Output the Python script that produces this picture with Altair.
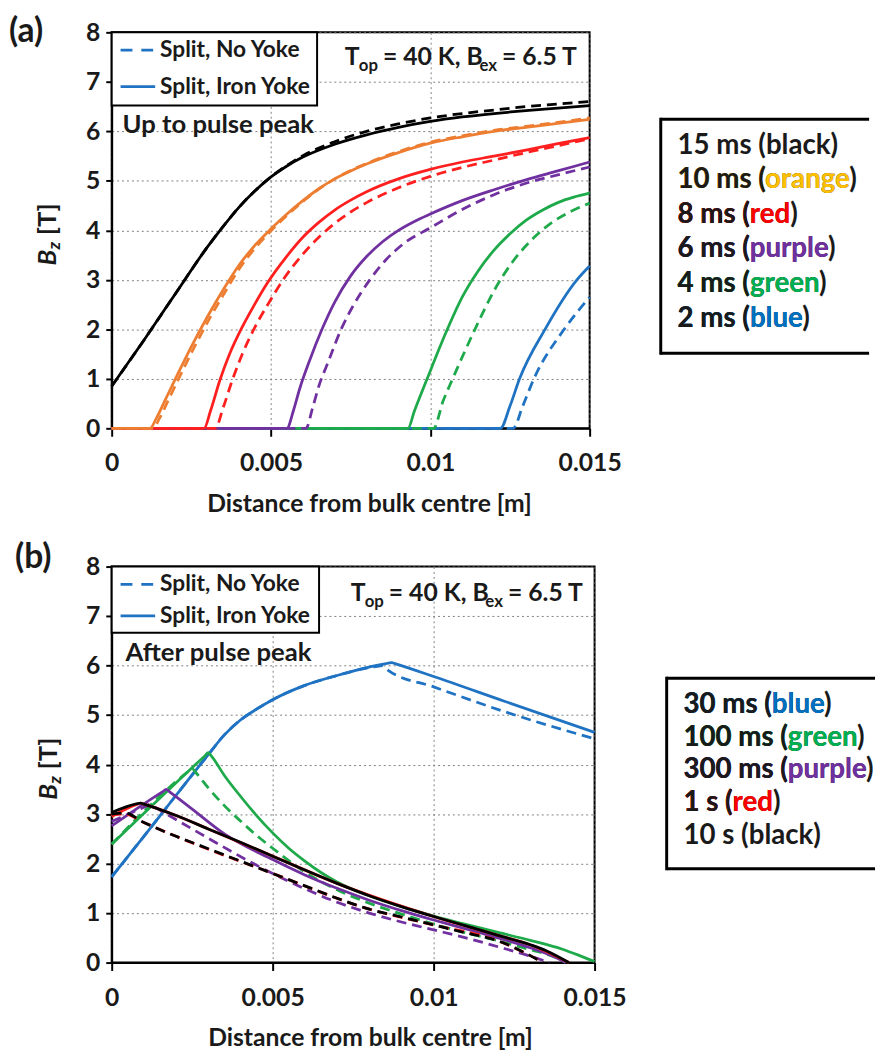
import altair as alt
import pandas as pd

FONT = "Lato"
INK = "#1a1a1a"

C_BLACK = "#000000"
C_ORANGE = "#ED7D31"
C_RED = "#FF1F1F"
C_PURPLE = "#7030A0"
C_GREEN = "#1EAA4A"
C_BLUE = "#1F73C2"

X_TICKS = [0, 0.005, 0.01, 0.015]
Y_TICKS = [0, 1, 2, 3, 4, 5, 6, 7, 8]

# ---------------- panel (a): up to pulse peak ----------------
A_BLACK_SOLID_X = [0, 0.001, 0.002, 0.003, 0.0035, 0.004, 0.0045, 0.005, 0.0055, 0.006, 0.007, 0.008, 0.009, 0.010, 0.011, 0.012, 0.013, 0.014, 0.015]
A_BLACK_SOLID_Y = [0.85, 1.77, 2.72, 3.66, 4.08, 4.47, 4.8, 5.08, 5.3, 5.48, 5.74, 5.93, 6.08, 6.2, 6.29, 6.36, 6.42, 6.47, 6.52]
A_BLACK_DASH_X = [0, 0.001, 0.002, 0.003, 0.0035, 0.004, 0.0045, 0.005, 0.0055, 0.006, 0.007, 0.008, 0.009, 0.010, 0.011, 0.012, 0.013, 0.014, 0.015]
A_BLACK_DASH_Y = [0.85, 1.77, 2.72, 3.66, 4.08, 4.47, 4.8, 5.08, 5.31, 5.51, 5.79, 6.0, 6.15, 6.27, 6.36, 6.43, 6.5, 6.55, 6.6]

A_ORANGE_SOLID_X = [0, 0.0012, 0.0014, 0.0017, 0.002, 0.0025, 0.003, 0.0035, 0.004, 0.0045, 0.005, 0.0055, 0.006, 0.0065, 0.007, 0.0075, 0.008, 0.009, 0.010, 0.011, 0.012, 0.013, 0.014, 0.015]
A_ORANGE_SOLID_Y = [0, 0, 0.2, 0.6, 1.0, 1.65, 2.25, 2.8, 3.3, 3.7, 4.03, 4.33, 4.6, 4.84, 5.04, 5.2, 5.34, 5.57, 5.76, 5.89, 6.0, 6.08, 6.16, 6.24]
A_ORANGE_DASH_X = [0, 0.0013, 0.0015, 0.0018, 0.0021, 0.0026, 0.0031, 0.0036, 0.004, 0.0045, 0.005, 0.0055, 0.006, 0.0065, 0.007, 0.0075, 0.008, 0.009, 0.010, 0.011, 0.012, 0.013, 0.014, 0.015]
A_ORANGE_DASH_Y = [0, 0, 0.2, 0.6, 1.0, 1.65, 2.25, 2.8, 3.22, 3.64, 3.99, 4.3, 4.58, 4.83, 5.04, 5.21, 5.35, 5.59, 5.78, 5.91, 6.02, 6.1, 6.18, 6.27]

A_RED_SOLID_X = [0, 0.0029, 0.0031, 0.0034, 0.0037, 0.0041, 0.0045, 0.0049, 0.0055, 0.006, 0.0065, 0.007, 0.0075, 0.008, 0.009, 0.010, 0.011, 0.012, 0.013, 0.014, 0.015]
A_RED_SOLID_Y = [0, 0, 0.35, 0.98, 1.5, 2.05, 2.52, 2.95, 3.48, 3.86, 4.16, 4.41, 4.61, 4.78, 5.04, 5.23, 5.38, 5.5, 5.62, 5.75, 5.87]
A_RED_DASH_X = [0, 0.00325, 0.0035, 0.0038, 0.0041, 0.0045, 0.0049, 0.0054, 0.006, 0.0065, 0.007, 0.0075, 0.008, 0.009, 0.010, 0.011, 0.012, 0.013, 0.014, 0.015]
A_RED_DASH_Y = [0, 0, 0.42, 1.0, 1.5, 2.05, 2.5, 3.02, 3.52, 3.86, 4.14, 4.37, 4.56, 4.86, 5.09, 5.27, 5.42, 5.57, 5.71, 5.85]

A_PURPLE_SOLID_X = [0, 0.0055, 0.0057, 0.0059, 0.0062, 0.0066, 0.007, 0.0075, 0.008, 0.0085, 0.009, 0.0095, 0.010, 0.011, 0.012, 0.013, 0.014, 0.015]
A_PURPLE_SOLID_Y = [0, 0, 0.35, 0.8, 1.35, 2.0, 2.55, 3.08, 3.47, 3.77, 4.0, 4.18, 4.33, 4.6, 4.82, 5.02, 5.2, 5.38]
A_PURPLE_DASH_X = [0, 0.0061, 0.0063, 0.0065, 0.0068, 0.0072, 0.0076, 0.0081, 0.0086, 0.0092, 0.010, 0.011, 0.012, 0.013, 0.014, 0.015]
A_PURPLE_DASH_Y = [0, 0, 0.4, 0.85, 1.35, 2.0, 2.5, 3.0, 3.4, 3.75, 4.05, 4.42, 4.72, 4.95, 5.12, 5.28]

A_GREEN_SOLID_X = [0, 0.0093, 0.0095, 0.0099, 0.0105, 0.011, 0.0115, 0.012, 0.0125, 0.013, 0.0135, 0.014, 0.0145, 0.015]
A_GREEN_SOLID_Y = [0, 0, 0.35, 1.0, 1.95, 2.65, 3.18, 3.6, 3.93, 4.2, 4.4, 4.56, 4.67, 4.75]
A_GREEN_DASH_X = [0, 0.0101, 0.0104, 0.0107, 0.0114, 0.012, 0.0126, 0.0132, 0.0138, 0.0144, 0.015]
A_GREEN_DASH_Y = [0, 0, 0.55, 1.0, 2.0, 2.78, 3.38, 3.82, 4.15, 4.38, 4.55]

A_BLUE_SOLID_X = [0, 0.0122, 0.0125, 0.0128, 0.0136, 0.0146, 0.015]
A_BLUE_SOLID_Y = [0, 0, 0.45, 1.0, 2.0, 3.0, 3.28]
A_BLUE_DASH_X = [0, 0.0126, 0.0129, 0.01325, 0.0142, 0.015]
A_BLUE_DASH_Y = [0, 0, 0.45, 1.0, 2.0, 2.65]

# ---------------- panel (b): after pulse peak ----------------
B_BLUE_SOLID_X = [0, 0.001, 0.002, 0.003, 0.0035, 0.004, 0.0045, 0.005, 0.006, 0.007, 0.008, 0.0086, 0.0087, 0.0088, 0.010, 0.0122, 0.015]
B_BLUE_SOLID_Y = [1.73, 2.55, 3.38, 4.2, 4.6, 4.9, 5.12, 5.31, 5.6, 5.8, 5.97, 6.05, 6.06, 6.04, 5.78, 5.28, 4.65]
B_BLUE_DASH_X = [0, 0.001, 0.002, 0.003, 0.0035, 0.004, 0.0045, 0.005, 0.006, 0.007, 0.008, 0.0083, 0.0084, 0.0086, 0.010, 0.0122, 0.015]
B_BLUE_DASH_Y = [1.73, 2.55, 3.38, 4.2, 4.6, 4.9, 5.12, 5.31, 5.6, 5.8, 5.96, 5.99, 6.0, 5.9, 5.57, 5.07, 4.52]

B_GREEN_SOLID_X = [0, 0.0029, 0.003, 0.0031, 0.0035, 0.004, 0.0045, 0.005, 0.0055, 0.006, 0.0065, 0.007, 0.008, 0.009, 0.010, 0.011, 0.012, 0.013, 0.014, 0.0145, 0.015]
B_GREEN_SOLID_Y = [2.39, 4.18, 4.24, 4.17, 3.78, 3.36, 2.97, 2.62, 2.31, 2.05, 1.82, 1.63, 1.35, 1.13, 0.94, 0.77, 0.61, 0.45, 0.27, 0.15, 0.02]
B_GREEN_DASH_X = [0, 0.0024, 0.0025, 0.0026, 0.003, 0.0035, 0.004, 0.0045, 0.005, 0.0055, 0.006, 0.007, 0.008, 0.009, 0.010, 0.011, 0.012, 0.013, 0.0138, 0.0141]
B_GREEN_DASH_Y = [2.39, 3.87, 3.92, 3.85, 3.53, 3.17, 2.86, 2.57, 2.31, 2.06, 1.83, 1.47, 1.2, 0.98, 0.78, 0.6, 0.44, 0.26, 0.1, 0.0]

B_PURPLE_SOLID_X = [0, 0.0016, 0.0017, 0.0018, 0.0025, 0.0035, 0.005, 0.006, 0.007, 0.008, 0.009, 0.010, 0.011, 0.012, 0.013, 0.0138, 0.0141]
B_PURPLE_SOLID_Y = [2.76, 3.46, 3.5, 3.45, 3.1, 2.6, 2.08, 1.77, 1.5, 1.26, 1.05, 0.86, 0.68, 0.5, 0.3, 0.1, 0.0]
B_PURPLE_DASH_X = [0, 0.0011, 0.0012, 0.0013, 0.0025, 0.005, 0.007, 0.008, 0.009, 0.010, 0.011, 0.012, 0.013, 0.0136]
B_PURPLE_DASH_Y = [2.85, 3.17, 3.2, 3.16, 2.7, 1.8, 1.22, 1.0, 0.82, 0.66, 0.5, 0.32, 0.13, 0.0]

B_RED_SOLID_X = [0, 0.0008, 0.0009, 0.001, 0.002, 0.003, 0.005, 0.007, 0.010, 0.012, 0.013, 0.0142]
B_RED_SOLID_Y = [2.95, 3.2, 3.22, 3.2, 2.97, 2.7, 2.15, 1.6, 0.93, 0.55, 0.36, 0.0]
B_RED_DASH_X = [0, 0.0004, 0.001, 0.002, 0.005, 0.008, 0.010, 0.012, 0.013, 0.0134]
B_RED_DASH_Y = [2.98, 3.0, 2.83, 2.55, 1.8, 1.08, 0.76, 0.44, 0.14, 0.0]

B_BLACK_SOLID_X = [0, 0.0008, 0.0009, 0.001, 0.002, 0.003, 0.004, 0.005, 0.006, 0.007, 0.008, 0.009, 0.010, 0.011, 0.012, 0.013, 0.0135, 0.0142]
B_BLACK_SOLID_Y = [3.03, 3.21, 3.22, 3.2, 2.97, 2.7, 2.43, 2.15, 1.87, 1.6, 1.35, 1.13, 0.93, 0.74, 0.55, 0.36, 0.24, 0.0]
B_BLACK_DASH_X = [0, 0.0004, 0.001, 0.002, 0.003, 0.004, 0.005, 0.006, 0.007, 0.008, 0.009, 0.010, 0.011, 0.012, 0.013, 0.0134]
B_BLACK_DASH_Y = [3.0, 3.02, 2.83, 2.55, 2.3, 2.05, 1.8, 1.55, 1.3, 1.08, 0.92, 0.76, 0.6, 0.44, 0.14, 0.0]

# ---------------- texts ----------------
STYLE_LABELS = ["Split, No Yoke", "Split, Iron Yoke"]
A_NOTE = "Up to pulse peak"
B_NOTE = "After pulse peak"
A_LEG_PREFIX = ["15 ms (", "10 ms (", "8 ms (", "6 ms (", "4 ms (", "2 ms ("]
A_LEG_WORD = ["black", "orange", "red", "purple", "green", "blue"]
A_LEG_COLOR = [INK, "#FFC000", "#FF0000", "#7030A0", "#00B050", "#0070C0"]
B_LEG_PREFIX = ["30 ms (", "100 ms (", "300 ms (", "1 s (", "10 s ("]
B_LEG_WORD = ["blue", "green", "purple", "red", "black"]
B_LEG_COLOR = ["#0070C0", "#00B050", "#7030A0", "#FF0000", INK]
X_TITLE = "Distance from bulk centre [m]"

DUMMY = pd.DataFrame({"d": [0]})

LATO_W = {" ": 0.2, "=": 0.58, ",": 0.24, ".": 0.24, "T": 0.57, "K": 0.67, "B": 0.66,
          "o": 0.57, "p": 0.57, "e": 0.53, "x": 0.52, "z": 0.47, "[": 0.32, "]": 0.32}


def tw(s, size):
    return sum(LATO_W.get(c, 0.58) for c in s) * size


def T(s, x, y, size, color=INK, align="left", baseline="middle", angle=None, style="normal"):
    kw = dict(text=s, align=align, baseline=baseline, font=FONT, fontSize=size,
              fontWeight="bold", color=color, fontStyle=style)
    if angle is not None:
        kw["angle"] = angle
    return alt.Chart(DUMMY).mark_text(**kw).encode(x=alt.value(x), y=alt.value(y))


def R(x1, y1, x2, y2, color="black", w=2.0, dash=None):
    kw = dict(color=color, strokeWidth=w)
    if dash:
        kw["strokeDash"] = dash
    return alt.Chart(DUMMY).mark_rule(**kw).encode(
        x=alt.value(x1), y=alt.value(y1), x2=alt.value(x2), y2=alt.value(y2))


def box(x1, y1, x2, y2, stroke=True):
    kw = dict(fill="white")
    if stroke:
        kw.update(stroke="black", strokeWidth=2)
    return alt.Chart(DUMMY).mark_rect(**kw).encode(
        x=alt.value(x1), y=alt.value(y1), x2=alt.value(x2), y2=alt.value(y2))


XS = alt.Scale(domain=[0, 0.015], nice=False, zero=False)
YS = alt.Scale(domain=[0, 8], nice=False)
XA = alt.Axis(values=X_TICKS, format=".3~f", title=None, grid=True, labelFlush=False,
              gridDash=[2, 3], gridColor="#808080", gridWidth=1,
              domainColor="black", domainWidth=2, tickColor="black", tickWidth=2, tickSize=8,
              labelFont=FONT, labelFontSize=25, labelFontWeight="bold", labelColor=INK, labelPadding=15)
YA = alt.Axis(values=Y_TICKS, format="d", title=None, grid=True,
              gridDash=[2, 3], gridColor="#808080", gridWidth=1,
              domainColor="black", domainWidth=2, tickColor="black", tickWidth=2, tickSize=6,
              labelFont=FONT, labelFontSize=25, labelFontWeight="bold", labelColor=INK, labelPadding=6)


def curve(xs, ys, color, dashed, interp="monotone"):
    df = pd.DataFrame({"x": xs, "B": ys})
    kw = dict(color=color, strokeWidth=2.8, interpolate=interp)
    if dashed:
        kw["strokeDash"] = [10, 6]
    return alt.Chart(df).mark_line(**kw).encode(
        x=alt.X("x:Q", scale=XS, axis=XA), y=alt.Y("B:Q", scale=YS, axis=YA))


def top_label(x0, yb):
    parts = [("T", 25, 0), ("op", 17, 6), ("= 40 K, B", 25, 0), ("ex", 17, 6), ("= 6.5 T", 25, 0)]
    out = []
    x = x0
    for i, (s, size, dy) in enumerate(parts):
        if i in (2, 4):
            x += tw(" ", 25)
        out.append(T(s, x, yb + dy, size, baseline="alphabetic"))
        x += tw(s, size)
    return out


def y_title(x, ybot):
    wB = tw("B", 26)
    wz = tw("z", 18)
    return [
        T("B", x, ybot, 26, angle=270, style="italic"),
        T("z", x + 7, ybot - wB + 1, 18, angle=270, style="italic"),
        T("[T]", x, ybot - wB - wz - tw(" ", 26), 26, angle=270),
    ]


def colored_rows(prefixes, words, colors, x, y0, dy, size):
    out = []
    for i, (p, w, c) in enumerate(zip(prefixes, words, colors)):
        y = y0 + dy * i
        out.append(T(p + w + ")", x, y, size, INK))
        if c != INK:
            out.append(T(p + w, x, y, size, c))
            out.append(T(p, x, y, size, INK))
    return out


def side_box(x1, y1, x2, y2):
    return [box(x1, y1, x2, y2, stroke=False),
            R(x1, y1, x2, y1, w=3), R(x1, y2, x2, y2, w=3), R(x1, y1 - 1.5, x1, y2 + 1.5, w=3)]


def style_legend(w, h, y1, y2):
    return [box(0, 0, w, h),
            R(9, y1, 44, y1, C_BLUE, 2.8, [12, 9]), T(STYLE_LABELS[0], 49, y1, 23),
            R(9, y2, 44, y2, C_BLUE, 2.8), T(STYLE_LABELS[1], 49, y2, 23)]


# ---------- panel (a) ----------
WA, HA = 484, 401
a_lines = [
    curve(A_BLUE_DASH_X, A_BLUE_DASH_Y, C_BLUE, True),
    curve(A_BLUE_SOLID_X, A_BLUE_SOLID_Y, C_BLUE, False),
    curve(A_GREEN_DASH_X, A_GREEN_DASH_Y, C_GREEN, True),
    curve(A_GREEN_SOLID_X, A_GREEN_SOLID_Y, C_GREEN, False),
    curve(A_PURPLE_DASH_X, A_PURPLE_DASH_Y, C_PURPLE, True),
    curve(A_PURPLE_SOLID_X, A_PURPLE_SOLID_Y, C_PURPLE, False),
    curve(A_RED_DASH_X, A_RED_DASH_Y, C_RED, True),
    curve(A_RED_SOLID_X, A_RED_SOLID_Y, C_RED, False),
    curve(A_ORANGE_DASH_X, A_ORANGE_DASH_Y, C_ORANGE, True),
    curve(A_ORANGE_SOLID_X, A_ORANGE_SOLID_Y, C_ORANGE, False),
    curve(A_BLACK_DASH_X, A_BLACK_DASH_Y, C_BLACK, True),
    curve(A_BLACK_SOLID_X, A_BLACK_SOLID_Y, C_BLACK, False),
]
a_deco = (style_legend(208, 74, 18, 55)
          + [T(A_NOTE, 11, 94, 26)]
          + top_label(236, 33)
          + side_box(556, 88, 767, 325)
          + colored_rows(A_LEG_PREFIX, A_LEG_WORD, A_LEG_COLOR, 573, 115, 35, 28)
          + [T("(a)", -104, 0, 34)]
          + y_title(-64, 236)
          + [T(X_TITLE, 261, 478, 25, align="center")])
panel_a = alt.layer(*(a_lines + a_deco)).properties(width=WA, height=HA)

# ---------- panel (b) ----------
WB, HB = 489, 401
b_lines = [
    curve(B_BLUE_DASH_X, B_BLUE_DASH_Y, C_BLUE, True),
    curve(B_BLUE_SOLID_X, B_BLUE_SOLID_Y, C_BLUE, False),
    curve(B_GREEN_DASH_X, B_GREEN_DASH_Y, C_GREEN, True),
    curve(B_GREEN_SOLID_X, B_GREEN_SOLID_Y, C_GREEN, False),
    curve(B_PURPLE_DASH_X, B_PURPLE_DASH_Y, C_PURPLE, True),
    curve(B_PURPLE_SOLID_X, B_PURPLE_SOLID_Y, C_PURPLE, False),
    curve(B_RED_DASH_X, B_RED_DASH_Y, C_RED, True),
    curve(B_RED_SOLID_X, B_RED_SOLID_Y, C_RED, False),
    curve(B_BLACK_DASH_X, B_BLACK_DASH_Y, C_BLACK, True),
    curve(B_BLACK_SOLID_X, B_BLACK_SOLID_Y, C_BLACK, False),
]
b_deco = (style_legend(210, 67, 18, 50)
          + [T(B_NOTE, 14, 88, 26)]
          + top_label(242, 35)
          + side_box(562, 113, 773, 306)
          + colored_rows(B_LEG_PREFIX, B_LEG_WORD, B_LEG_COLOR, 579, 140, 33.3, 28)
          + [T("(b)", -98, -9, 34)]
          + y_title(-63, 236)
          + [T(X_TITLE, 262, 477, 25, align="center")])
panel_b = alt.layer(*(b_lines + b_deco)).properties(width=WB, height=HB)

chart = (alt.concat(panel_a, panel_b, columns=1, spacing=22, align="none")
         .properties(padding=0, background="white")
         .configure_view(stroke="black", strokeWidth=2))

chart.save("out.html", embed_options={"renderer": "svg", "actions": False})
